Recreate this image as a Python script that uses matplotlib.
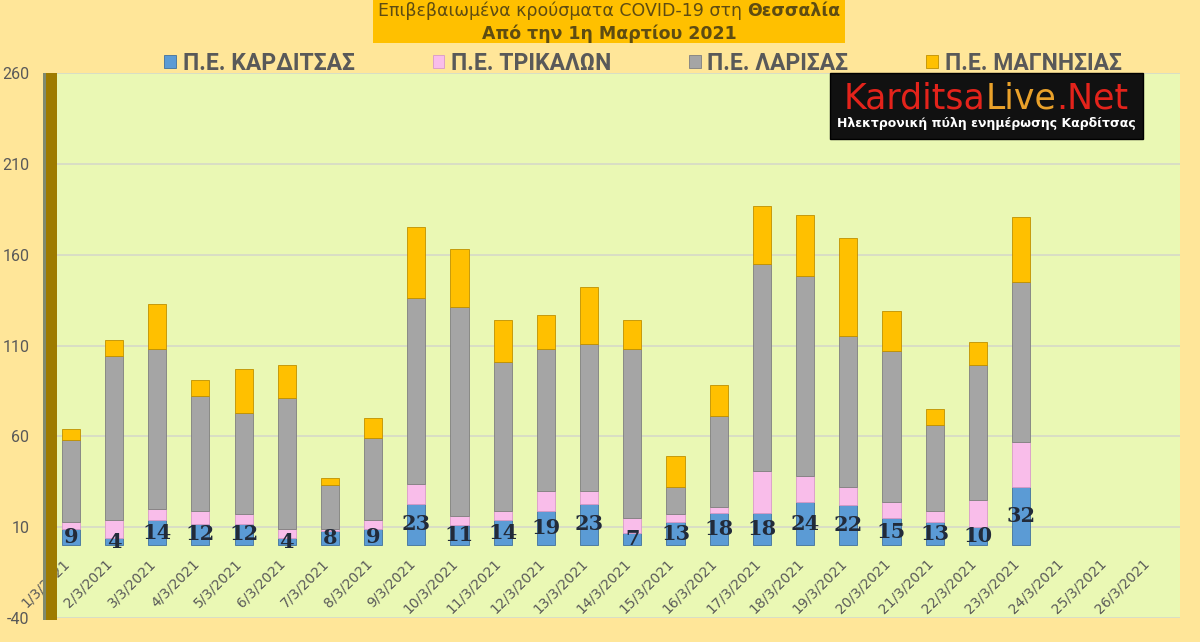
import matplotlib
matplotlib.use("Agg")
import matplotlib.pyplot as plt
import numpy as np
from matplotlib.patches import Rectangle
from matplotlib.offsetbox import TextArea, HPacker, VPacker, AnchoredOffsetbox

plt.rcParams["axes.unicode_minus"] = False

# data
dates = ["1/3/2021", "2/3/2021", "3/3/2021", "4/3/2021", "5/3/2021", "6/3/2021",
         "7/3/2021", "8/3/2021", "9/3/2021", "10/3/2021", "11/3/2021", "12/3/2021",
         "13/3/2021", "14/3/2021", "15/3/2021", "16/3/2021", "17/3/2021", "18/3/2021",
         "19/3/2021", "20/3/2021", "21/3/2021", "22/3/2021", "23/3/2021", "24/3/2021",
         "25/3/2021", "26/3/2021"]
karditsa = [9, 4, 14, 12, 12, 4, 8, 9, 23, 11, 14, 19, 23, 7, 13, 18, 18, 24, 22, 15, 13, 10, 32]
trikala = [4, 10, 6, 7, 5, 5, 1, 5, 11, 5, 5, 11, 7, 8, 4, 3, 23, 14, 10, 9, 6, 15, 25]
larisa = [45, 90, 88, 63, 56, 72, 24, 45, 102, 115, 82, 78, 81, 93, 15, 50, 114, 110, 83, 83, 47, 74, 88]
magnisia = [6, 9, 25, 9, 24, 18, 4, 11, 39, 32, 23, 19, 31, 16, 17, 17, 32, 34, 54, 22, 9, 13, 36]
series_names = ["Π.Ε. ΚΑΡΔΙΤΣΑΣ", "Π.Ε. ΤΡΙΚΑΛΩΝ", "Π.Ε. ΛΑΡΙΣΑΣ", "Π.Ε. ΜΑΓΝΗΣΙΑΣ"]
yticks = [-40, 10, 60, 110, 160, 210, 260]

colors = ["#5B9BD5", "#F9BDEA", "#A5A5A5", "#FFC000"]
edges = ["#41719C", "#D99AC8", "#7F7F7F", "#BF9000"]
txt_col = "#595959"

W, H = 1200, 642
fig = plt.figure(figsize=(W / 100, H / 100), dpi=100, facecolor="#FFE699")

ax = fig.add_axes([57 / W, 1 - 618 / H, (1180 - 57) / W, (618 - 73) / H])
ax.set_facecolor("#EAF8B4")
ax.set_xlim(-0.32, 25.68)
ax.set_ylim(-40, 260)
ax.set_yticks(yticks)
ax.set_xticks([])
ax.tick_params(axis="y", length=0, pad=20, labelsize=11.5, labelcolor=txt_col)
for lab in ax.get_yticklabels():
    lab.set_family("Roboto")
ax.grid(axis="y", color="#D6D9C8", lw=1.2)
ax.set_axisbelow(True)
for s in ax.spines.values():
    s.set_visible(False)

x = np.arange(len(karditsa))
bottom = np.zeros(len(karditsa))
for vals, c, ec, name in zip([karditsa, trikala, larisa, magnisia], colors, edges, series_names):
    ax.bar(x, vals, width=0.42, bottom=bottom, color=c, edgecolor=ec, lw=0.6, label=name, zorder=3)
    bottom = bottom + np.array(vals)

# value labels for Karditsa, centred in the blue segment
for xi, v in zip(x, karditsa):
    ax.text(xi, v / 2, str(v), ha="center", va="center", fontsize=15, fontweight="bold",
            family="DejaVu Serif", color="#222B3A", zorder=5)

# date labels sit on the floor of the chart
for i, d in enumerate(dates):
    ax.text(i - 0.2, -6, d, rotation=45, rotation_mode="anchor", ha="right", va="top",
            fontsize=10, color=txt_col, zorder=4)

# left wall
fig.add_artist(Rectangle((43 / W, 1 - 620 / H), 14 / W, (620 - 73) / H,
                         transform=fig.transFigure, facecolor="#9E7B00", edgecolor="none"))
fig.add_artist(Rectangle((43 / W, 1 - 620 / H), 3 / W, (620 - 73) / H,
                         transform=fig.transFigure, facecolor="#7F8A70", edgecolor="none"))

# title box
fig.add_artist(Rectangle((373 / W, 1 - 43 / H), (845 - 373) / W, 43 / H,
                         transform=fig.transFigure, facecolor="#FFC000", edgecolor="none"))
tc = "#5E4C12"
line1 = HPacker(children=[
    TextArea("Επιβεβαιωμένα κρούσματα COVID-19 στη ", textprops=dict(fontsize=12.5, color=tc)),
    TextArea("Θεσσαλία", textprops=dict(fontsize=12.5, color=tc, fontweight="bold")),
], align="baseline", pad=0, sep=0)
line2 = TextArea("Από την 1η Μαρτίου 2021", textprops=dict(fontsize=12.5, color=tc, fontweight="bold"))
title = VPacker(children=[line1, line2], align="center", pad=0, sep=3)
fig.add_artist(AnchoredOffsetbox(loc="center", child=title, frameon=False,
                                 bbox_to_anchor=(609 / W, 1 - 22 / H),
                                 bbox_transform=fig.transFigure, pad=0, borderpad=0))

# legend
handles, labels = ax.get_legend_handles_labels()
fig.legend(handles, labels, loc="center", ncol=4, frameon=False,
           bbox_to_anchor=(643 / W, 1 - 63 / H), handlelength=0.5, handleheight=0.5,
           handletextpad=0.3, columnspacing=3.4,
           prop=dict(family="Roboto", weight="bold", size=16.5), labelcolor=txt_col)

# site logo
fig.add_artist(Rectangle((830 / W, 1 - 139 / H), (1143 - 830) / W, (139 - 73) / H,
                         transform=fig.transFigure, facecolor="#111111", edgecolor="#000000",
                         zorder=6))
logo_top = HPacker(children=[
    TextArea("Karditsa", textprops=dict(fontsize=25, color="#E3231B")),
    TextArea("Live", textprops=dict(fontsize=25, color="#E9A12A")),
    TextArea(".Net", textprops=dict(fontsize=25, color="#E3231B")),
], align="baseline", pad=0, sep=0)
logo_sub = TextArea("Ηλεκτρονική πύλη ενημέρωσης Καρδίτσας",
                    textprops=dict(fontsize=9, color="white", fontweight="bold"))
logo = VPacker(children=[logo_top, logo_sub], align="center", pad=0, sep=1)
logo_box = AnchoredOffsetbox(loc="center", child=logo, frameon=False,
                             bbox_to_anchor=(986 / W, 1 - 106 / H),
                             bbox_transform=fig.transFigure, pad=0, borderpad=0)
logo_box.set_zorder(7)
fig.add_artist(logo_box)

fig.savefig("out.png", dpi=100, facecolor=fig.get_facecolor())
